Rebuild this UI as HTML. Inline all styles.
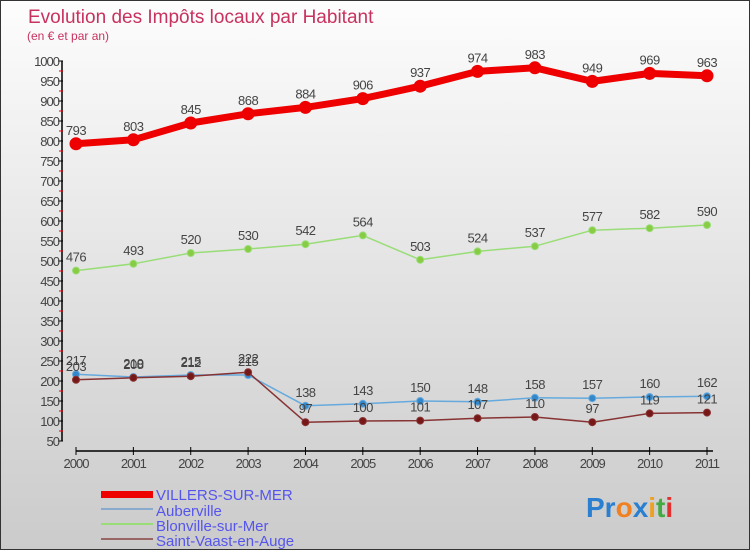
<!DOCTYPE html>
<html><head><meta charset="utf-8"><style>
body{margin:0}
#c{width:750px;height:550px;position:relative;overflow:hidden;box-sizing:border-box;border:1px solid #333;background:linear-gradient(#fdfdfd,#d9d9d9 70%,#cbcbcb);font-family:"Liberation Sans",sans-serif}
svg text{font-family:"Liberation Sans",sans-serif}
</style></head><body>
<div id="c">
<svg id="s" width="750" height="550">
<text x="27" y="22" font-size="19" fill="#c8325f">Evolution des Impôts locaux par Habitant</text>
<text x="26" y="39" font-size="12" fill="#c8325f">(en € et par an)</text>
<g id="ax"></g><g id="ser"></g>
<g>
<rect x="100" y="490" width="52" height="7" fill="#e00"/>
<text x="155" y="499" font-size="15" fill="#5555ee">VILLERS-SUR-MER</text>
<line x1="100" y1="508" x2="152" y2="508" stroke="#88aacc" stroke-width="2"/>
<text x="155" y="515" font-size="15" fill="#5555ee">Auberville</text>
<line x1="100" y1="523" x2="152" y2="523" stroke="#99dd77" stroke-width="2"/>
<text x="155" y="530" font-size="15" fill="#5555ee">Blonville-sur-Mer</text>
<line x1="100" y1="538" x2="152" y2="538" stroke="#996666" stroke-width="2"/>
<text x="155" y="545" font-size="15" fill="#5555ee">Saint-Vaast-en-Auge</text>
</g>
<g font-size="28" font-weight="bold">
<text x="585" y="516"><tspan fill="#2a7fd0">Pr</tspan><tspan fill="#f08020">o</tspan><tspan fill="#2a7fd0">x</tspan><tspan fill="#f0a020">i</tspan><tspan fill="#44aa44">t</tspan><tspan fill="#e03030">i</tspan></text>
</g>
</svg></div>
<script>
const years=[2000,2001,2002,2003,2004,2005,2006,2007,2008,2009,2010,2011];
const villers=[793,803,845,868,884,906,937,974,983,949,969,963];
const blonville=[476,493,520,530,542,564,503,524,537,577,582,590];
const auberville=[217,210,215,215,138,143,150,148,158,157,160,162];
const saintVaast=[203,208,212,222,97,100,101,107,110,97,119,121];
const yTicks=[50,100,150,200,250,300,350,400,450,500,550,600,650,700,750,800,850,900,950,1000];
const NS="http://www.w3.org/2000/svg";
const X=i=>75+i*(706-75)/(years.length-1);
const Y=v=>60+(1000-v)*0.4;
function mk(p,t,a){const e=document.createElementNS(NS,t);for(const k in a)e.setAttribute(k,a[k]);p.appendChild(e);return e;}
const ax=document.getElementById('ax');
let l=mk(ax,'line',{x1:61,y1:Y(1000),x2:61,y2:Y(50),stroke:'#000','stroke-width':1.5});


l=mk(ax,'line',{x1:X(0),y1:450,x2:712,y2:450,stroke:'#000','stroke-width':1.5});


yTicks.forEach(v=>{
 mk(ax,'line',{x1:57,y1:Y(v),x2:62,y2:Y(v),stroke:'#000'});
 mk(ax,'line',{x1:58,y1:Y(v+25),x2:62,y2:Y(v+25),stroke:'#e00'}).setAttribute('display',v<1000?'':'none');
 const t=mk(ax,'text',{x:58,y:Y(v)+5,'font-size':13,'text-anchor':'end',fill:'#444','letter-spacing':'-1'});
 
 
 t.textContent=v;
});
years.forEach((yr,i)=>{
 mk(ax,'line',{x1:X(i),y1:446,x2:X(i),y2:454,stroke:'#000'});
 const t=mk(ax,'text',{x:X(i),y:467,'font-size':13,'text-anchor':'middle',fill:'#444','letter-spacing':'-1'});
 
 
 t.textContent=yr;
});
const ser=document.getElementById('ser');
function series(name,vals,color,w,r,dot){
 const g=mk(ser,'g',{});
 
 
 mk(g,'polyline',{points:vals.map((v,i)=>X(i)+','+Y(v)).join(' '),fill:'none',stroke:color,'stroke-width':w,'stroke-linejoin':'round'});
 vals.forEach((v,i)=>{
  const c=mk(g,'circle',{cx:X(i),cy:Y(v),r:r,fill:dot,stroke:color,'stroke-width':1});
  
  
  const t=mk(g,'text',{x:X(i),y:Y(v)-9,'font-size':13,'text-anchor':'middle',fill:'#444','letter-spacing':'-0.5'});
  
  
  t.textContent=v;
 });
}
series('blonville',blonville,'#99dd77',1.5,3.5,'#88cc44');
series('auberville',auberville,'#66aadd',1.5,3.5,'#3388cc');
series('saint-vaast',saintVaast,'#883333',1.5,3.5,'#771818');
series('villers',villers,'#ee0000',7,6,'#ee0000');
</script>
</body></html>
